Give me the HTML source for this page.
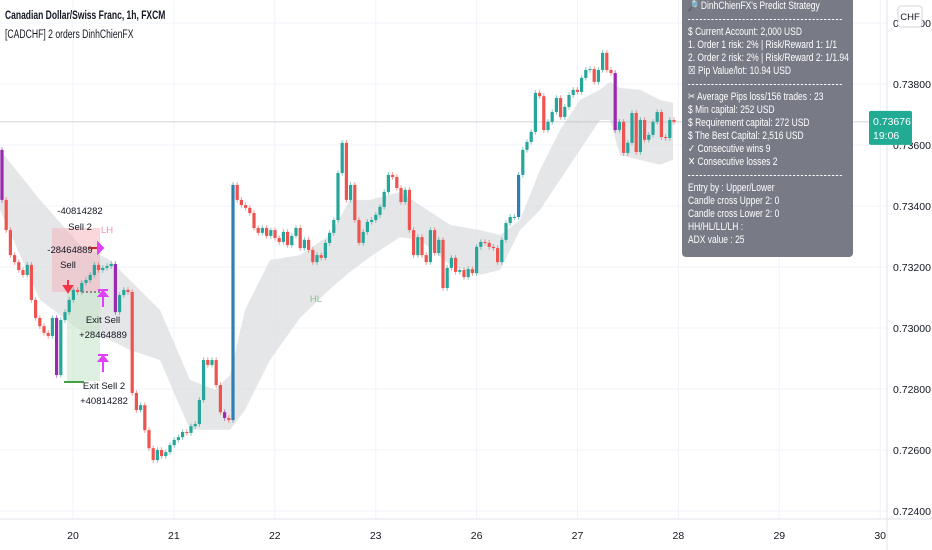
<!DOCTYPE html>
<html><head><meta charset="utf-8">
<style>
html,body{margin:0;padding:0;background:#fff;}
body{width:932px;height:550px;overflow:hidden;position:relative;font-family:"Liberation Sans",sans-serif;}
svg{position:absolute;left:0;top:0;}
#panel{position:absolute;left:682px;top:0;width:171px;height:257px;background:#787b86;border-radius:0 0 4px 4px;color:#fff;overflow:hidden;}
#pin{position:absolute;left:6px;top:0;width:210px;transform:scaleX(0.77);transform-origin:0 0;font-size:11px;line-height:13px;white-space:nowrap;}
#pin .sep{border-top:1px dashed #fff;margin:6px 0 6px 0;height:0;width:200px;}
#title{position:absolute;left:5px;top:10px;font-size:11.5px;font-weight:bold;color:#131722;transform:scaleX(0.74);transform-origin:0 0;white-space:nowrap;}
#sub{position:absolute;left:5px;top:29px;font-size:11.5px;color:#131722;transform:scaleX(0.75);transform-origin:0 0;white-space:nowrap;}
</style></head><body>
<svg id="chart" width="932" height="550"></svg>
<div id="title">Canadian Dollar/Swiss Franc, 1h, FXCM</div>
<div id="sub">[CADCHF] 2 orders DinhChienFX</div>
<div id="panel">
<div id="pin">
<div style="padding-top:0px">🔎 DinhChienFX's Predict Strategy</div>
<div class="sep"></div>
<div>$ Current Account: 2,000 USD</div>
<div>1. Order 1 risk: 2% | Risk/Reward 1: 1/1</div>
<div>2. Order 2 risk: 2% | Risk/Reward 2: 1/1.94</div>
<div>☒ Pip Value/lot: 10.94 USD</div>
<div class="sep"></div>
<div>✂ Average Pips loss/156 trades : 23</div>
<div>$ Min capital: 252 USD</div>
<div>$ Requirement capital: 272 USD</div>
<div>$ The Best Capital: 2,516 USD</div>
<div>✓ Consecutive wins 9</div>
<div>✕ Consecutive losses 2</div>
<div class="sep"></div>
<div>Entry by : Upper/Lower</div>
<div>Candle cross Upper 2: 0</div>
<div>Candle cross Lower 2: 0</div>
<div>HH/HL/LL/LH :</div>
<div>ADX value : 25</div>
</div>
</div>
<script>
const priceTicks=[0.740,0.738,0.736,0.734,0.732,0.730,0.728,0.726,0.724];
const priceTickLabels=["0.74000","0.73800","0.73600","0.73400","0.73200","0.73000","0.72800","0.72600","0.72400"];
const dayLabels=["20","21","22","23","26","27","28","29","30"];
const firstOpen=0.73584;
const closes=[0.73420,0.73321,0.73239,0.73216,0.73190,0.73174,0.73207,0.73092,0.73033,0.73006,
0.72984,0.72974,0.73033,0.72846,0.73026,0.73052,0.73092,0.73125,0.73118,0.73148,
0.73157,0.73174,0.73207,0.73190,0.73197,0.73203,0.73210,0.73052,0.73108,0.73125,
0.73118,0.72787,0.72731,0.72747,0.72665,0.72606,0.72567,0.72600,0.72580,0.72593,
0.72616,0.72633,0.72642,0.72659,0.72656,0.72678,0.72685,0.72764,0.72895,0.72879,
0.72895,0.72813,0.72724,0.72705,0.72698,0.73469,0.73420,0.73403,0.73394,0.73377,
0.73328,0.73312,0.73328,0.73302,0.73321,0.73295,0.73282,0.73315,0.73272,0.73302,
0.73328,0.73262,0.73289,0.73256,0.73216,0.73239,0.73230,0.73279,0.73312,0.73354,
0.73508,0.73607,0.73420,0.73469,0.73354,0.73279,0.73315,0.73348,0.73354,0.73371,
0.73397,0.73446,0.73502,0.73495,0.73459,0.73413,0.73453,0.73321,0.73239,0.73298,
0.73239,0.73216,0.73321,0.73246,0.73289,0.73131,0.73197,0.73230,0.73184,0.73190,
0.73167,0.73193,0.73180,0.73266,0.73282,0.73279,0.73266,0.73262,0.73216,0.73289,
0.73344,0.73364,0.73364,0.73502,0.73584,0.73610,0.73643,0.73771,0.73760,0.73649,
0.73676,0.73708,0.73754,0.73692,0.73725,0.73764,0.73781,0.73774,0.73820,0.73846,
0.73849,0.73807,0.73846,0.73902,0.73846,0.73836,0.73649,0.73676,0.73574,0.73607,
0.73705,0.73577,0.73682,0.73617,0.73633,0.73676,0.73708,0.73626,0.73623,0.73682,0.73676];
const purpleIdx=[0,13,27,53,146];
const blueIdx=[55,123];
const bandX=[0,40,80,110,130,160,190,215,230,245,270,300,330,350,370,400,420,450,480,500,520,540,560,580,600,610,620,640,660,673];
const bandUpper=[0.73584,0.73420,0.73272,0.73223,0.73157,0.73059,0.72830,0.72797,0.72846,0.73059,0.73223,0.73239,0.73305,0.73420,0.73420,0.73446,0.73403,0.73338,0.73321,0.73305,0.73354,0.73518,0.73649,0.73748,0.73781,0.73807,0.73787,0.73781,0.73748,0.73738];
const bandLower=[0.73387,0.73092,0.72993,0.72961,0.72928,0.72895,0.72666,0.72666,0.72666,0.72731,0.72895,0.73033,0.73128,0.73184,0.73233,0.73298,0.73289,0.73207,0.73174,0.73190,0.73321,0.73387,0.73486,0.73584,0.73682,0.73682,0.73567,0.73551,0.73535,0.73551];
const lastPrice=0.73676;

const svg=document.getElementById('chart');
const NS='http://www.w3.org/2000/svg';
const plotRight=887, axisY=519;
function y(p){return 267-(p-0.732)/0.002*61;}
function xc(i){return 2+i*4.2;}
function dayX(k){return 73+k*100.9;}
function el(tag,attrs,parent){const e=document.createElementNS(NS,tag);for(const k in attrs)e.setAttribute(k,attrs[k]);(parent||svg).appendChild(e);return e;}

priceTicks.forEach((p,i)=>{
 const g=el('line',{x1:0,x2:plotRight,y1:y(p),y2:y(p),stroke:'#f0f3fa','stroke-width':1});
 
 
 const t=el('text',{x:893,y:y(p)+4,'font-size':10.5,fill:'#131722','font-family':'Liberation Sans, sans-serif'});
 t.textContent=priceTickLabels[i];
 
 
});
dayLabels.forEach((d,k)=>{
 const g=el('line',{x1:dayX(k),x2:dayX(k),y1:0,y2:axisY,stroke:'#f0f3fa','stroke-width':1});
 
 
 const t=el('text',{x:dayX(k),y:539,'font-size':10.5,fill:'#131722','text-anchor':'middle','font-family':'Liberation Sans, sans-serif'});
 t.textContent=d;
 
 
});
const ax1=el('line',{x1:0,x2:932,y1:axisY,y2:axisY,stroke:'#e0e3eb'});


const ax2=el('line',{x1:plotRight,x2:plotRight,y1:0,y2:550,stroke:'#e0e3eb'});



let d='M'+bandX.map((x,i)=>x+','+y(bandUpper[i]).toFixed(1)).join(' L');
for(let i=bandX.length-1;i>=0;i--)d+=' L'+bandX[i]+','+y(bandLower[i]).toFixed(1);
const band=el('path',{d:d+'Z',fill:'#dcdde0','fill-opacity':0.75});



const pz=el('rect',{x:52,y:228,width:48,height:64,fill:'#f4b6bd','fill-opacity':0.55});


const gz=el('rect',{x:67,y:292,width:33,height:89,fill:'#c8e6c9','fill-opacity':0.6});



const lp=el('line',{x1:0,x2:plotRight,y1:y(lastPrice),y2:y(lastPrice),stroke:'#b2b5be','stroke-width':1,'stroke-opacity':0.6});



closes.forEach((c,i)=>{
 const o=i===0?firstOpen:closes[i-1];
 let col=c>=o?'#26a69a':'#ef5350';
 if(purpleIdx.includes(i))col='#9c27b0';
 if(blueIdx.includes(i))col='#2f7fb5';
 const hi=Math.max(o,c)+0.00009, lo=Math.min(o,c)-0.00009;
 const x=xc(i);
 const w=el('line',{x1:x,x2:x,y1:y(hi),y2:y(lo),stroke:col,'stroke-width':1,'stroke-opacity':0.6});
 
 
 const top=y(Math.max(o,c)),h=Math.max(1,y(Math.min(o,c))-top);
 const b=el('rect',{x:x-1.6,y:top,width:3.2,height:h,fill:col});
 
 
});

function txt(s,x,yy,col,name,size){const t=el('text',{x:x,y:yy,'font-size':size||9.5,fill:col,'text-anchor':'middle','font-family':'Liberation Sans, sans-serif'});t.textContent=s;}
txt('-40814282',80,214,'#131722','sell2-entry-value');
txt('Sell 2',80,230,'#131722','sell2-label');
txt('-28464889',70,253,'#131722','sell-entry-value');
txt('Sell',68,268,'#131722','sell-label');
txt('LH',107,233,'#f48fb1','lh-label');
txt('Exit Sell',103,323,'#131722','exit-sell-label');
txt('+28464889',103,338,'#131722','exit-sell-value');
txt('Exit Sell 2',104,389,'#131722','exit-sell2-label');
txt('+40814282',104,404,'#131722','exit-sell2-value');
txt('HL',316,302,'#81c784','hl-label');
const mk=[['M89,248 L98,248','#c62828'],['M98,243 L103,248 L98,253 Z','#e040fb'],['M68,280 L68,290','#f23645'],['M64,286 L68,292 L72,286Z','#f23645'],
['M98,290 L108,290 M103,290 L103,307 M99,296 L103,291 L107,296Z','#e040fb'],['M98,355 L108,355 M103,355 L103,372 M99,361 L103,356 L107,361Z','#e040fb'],
['M64,382 L84,382','#43a047'],['M82,292 L100,292','#888']];
mk.forEach(m=>{const p=el('path',{d:m[0],stroke:m[1],fill:m[1],'stroke-width':2,'stroke-dasharray':m[1]==='#888'?'2,2':'none'});});

const pl=el('rect',{x:869,y:y(lastPrice)-11,width:43,height:34,fill:'#22ab94',rx:2});


const t1=el('text',{x:873,y:y(lastPrice)+3,'font-size':10.5,fill:'#fff','font-family':'Liberation Sans, sans-serif'});t1.textContent='0.73676';


const t2=el('text',{x:873,y:y(lastPrice)+17,'font-size':10.5,fill:'#fff','font-family':'Liberation Sans, sans-serif'});t2.textContent='19:06';


const cb=el('rect',{x:898,y:6,width:24,height:21,fill:'#fff',stroke:'#d1d4dc',rx:3});


const ct=el('text',{x:910,y:20,'font-size':9.5,fill:'#131722','text-anchor':'middle','font-family':'Liberation Sans, sans-serif'});ct.textContent='CHF';


</script>
</body></html>
